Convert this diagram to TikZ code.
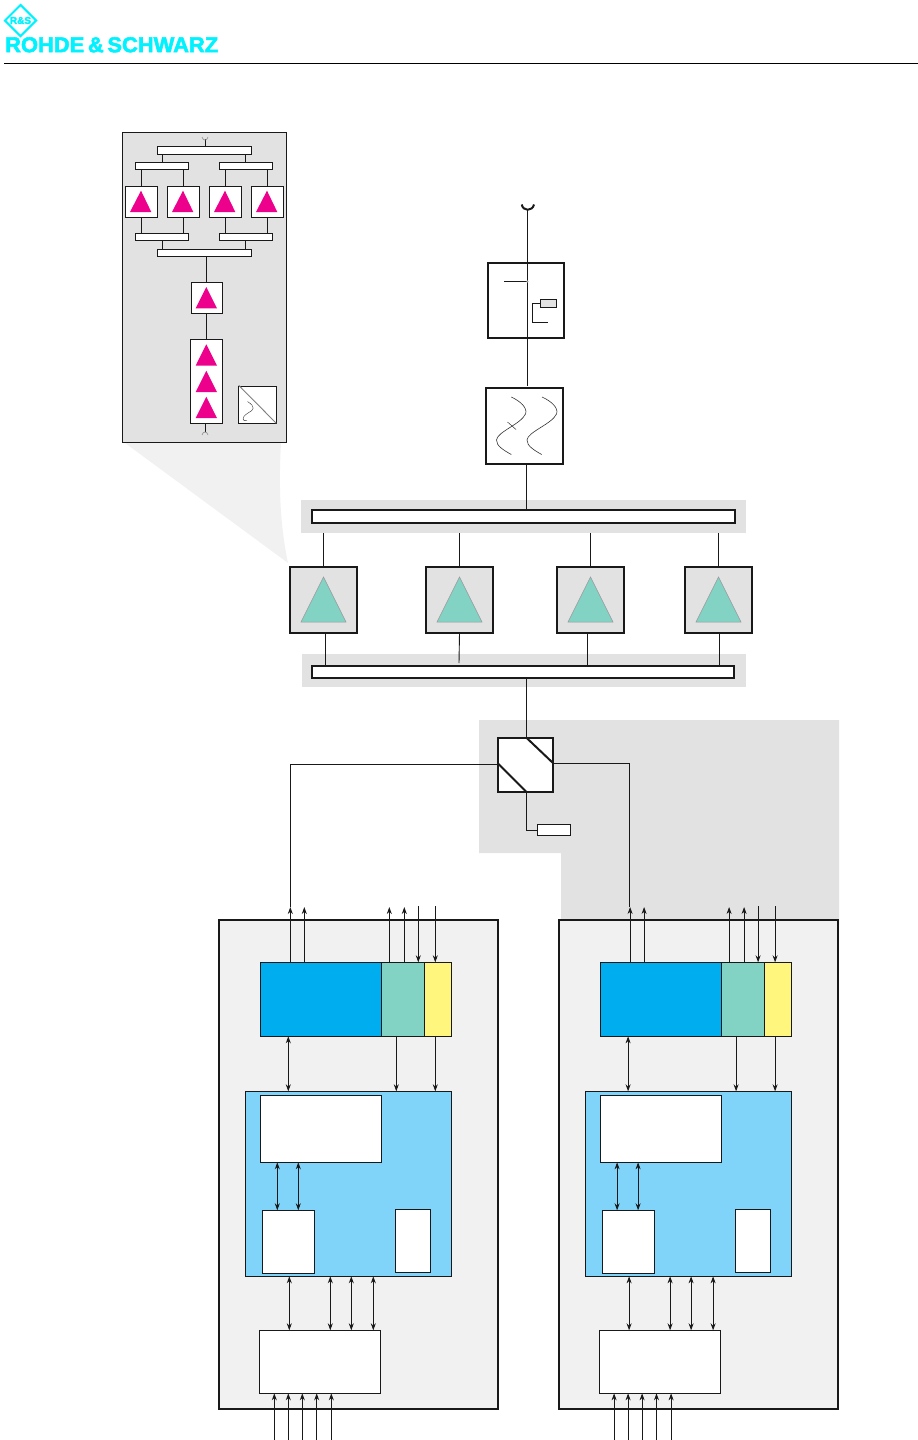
\documentclass[tikz,border=0pt]{standalone}
\usepackage{fontspec}
\setmainfont{Liberation Sans}
\newfontfamily\logofont[FakeBold=2.5]{Liberation Sans Bold}
\usetikzlibrary{arrows.meta, calc, shapes.geometric}

\definecolor{panelgray}{HTML}{E2E2E2}
\definecolor{conegray}{HTML}{F1F1F1}
\definecolor{rfblue}{HTML}{00ADEF}
\definecolor{rfteal}{HTML}{82D3C3}
\definecolor{rfyellow}{HTML}{FFF77D}
\definecolor{corelight}{HTML}{80D4FA}
\definecolor{ampmagenta}{HTML}{EC008C}
\definecolor{logocyan}{HTML}{00F2FF}

\begin{document}
\begin{tikzpicture}[x=1pt, y=-1pt,
            box/.style={draw=black!90, line width=0.9pt, fill=white, anchor=north west,
                    inner sep=0pt, outer sep=0pt},
            sz/.style 2 args={minimum width=#1pt, minimum height=#2pt},
            heavy/.style={box, line width=2pt},
            plate/.style={box, draw=none},
            wire/.style={line width=0.9pt, black!90},
            arr/.style={wire, -{Stealth[length=7pt, width=5pt]}},
            dbl/.style={wire, {Stealth[length=7pt, width=5pt]}-{Stealth[length=7pt, width=5pt]}}]
        \useasboundingbox (0,0) rectangle (918,1440);

        % logo and header rule
        \node[diamond, draw=logocyan, line width=2pt, inner sep=0pt, minimum size=32pt,
              text=logocyan, font=\logofont\fontsize{10}{10}\selectfont] (diam) at (20.5,20.5) {R\&S};
        \node[anchor=north west, inner sep=0pt, text=logocyan] (logo) at (5,37)
            {\resizebox{213pt}{15pt}{\logofont ROHDE\,\&\,SCHWARZ}};
        \coordinate (rulea) at (4,63.5);
        \coordinate (ruleb) at (918,63.5);
        \draw[line width=0.9pt] (rulea) -- (ruleb);

        % magnified power amplifier
        \fill[conegray] (125,443) -- (288,563) .. controls (279,520) and (279,480) .. (281,443) -- cycle;
        \node[box, sz={164}{310}, fill=panelgray] (inset) at (122,132) {};
        \node[box, sz={94.4}{7.6}] (itop) at (157.3,146.7) {};
        \node[box, sz={53}{7}] (ila) at (135.3,162.3) {};
        \node[box, sz={53}{7}] (ilb) at (219.3,162.3) {};
        \node[box, sz={53}{7}] (ilc) at (135.3,233.3) {};
        \node[box, sz={53}{7}] (ild) at (219.3,233.3) {};
        \node[box, sz={94.4}{6.6}] (ibot) at (157.3,249.7) {};
        \foreach \xa/\n in {125.3/1, 167.3/2, 209.3/3, 251.3/4} {
            \node[box, sz={32}{31}] (ia\n) at (\xa,186.3) {};
            \fill[ampmagenta] (\xa+15.7,190.7) -- (\xa+4.7,212) -- (\xa+26,212) -- cycle;
        }
        \draw[wire] (ila.north -| 162.3,0) -- (itop.south -| 162.3,0);
        \draw[wire] (ilb.north) -- (itop.south -| ilb.north);
        \draw[wire] (ilc.south -| 162.3,0) -- (ibot.north -| 162.3,0);
        \draw[wire] (ild.south) -- (ibot.north -| ild.south);
        \foreach \n/\m/\k in {1/ila/ilc, 2/ila/ilc, 3/ilb/ild, 4/ilb/ild} {
            \draw[wire] (ia\n.north) -- (ia\n.north |- \m.south);
            \draw[wire] (ia\n.south) -- (ia\n.south |- \k.north);
        }
        \node[box, sz={31}{31}] (idrv) at (191.3,282.3) {};
        \fill[ampmagenta] (206.3,287) -- (195.7,308.3) -- (217,308.3) -- cycle;
        \node[box, sz={32}{84}] (ipre) at (190.3,339.3) {};
        \foreach \ya in {344.3, 370.7, 396.7}
            \fill[ampmagenta] (206.3,\ya) -- (195.7,\ya+21.3) -- (217,\ya+21.3) -- cycle;
        \node[box, sz={37.6}{37}] (iconv) at (238.7,386.3) {};
        \draw[line width=0.9pt, black!50] (iconv.north west) ++(0,-1) -- (iconv.south east);
        \draw[line width=0.4pt, black!80] (247.5,401.5) .. controls (256,407) and (254,410) .. (248,413)
            .. controls (240,418) and (243,422) .. (247,420.5);
        \draw[wire] (ibot.south -| idrv.north) -- (idrv.north);
        \draw[wire] (idrv.south) -- (ipre.north -| idrv.south);
        \coordinate (iain) at (205,139);
        \coordinate (iaout) at (205,432);
        \draw[wire] (iain) -- (itop.north -| iain);
        \draw[wire] (ipre.south -| iaout) -- (iaout);
        \draw[line width=0.6pt, black!45] (202,137) .. controls (203,141) and (207,141) .. (208,137);
        \draw[line width=0.6pt, black!45] (202,435) .. controls (203,431) and (207,431) .. (208,435);

        % antenna, coupler and filter
        \coordinate (ant) at (527.5,209);
        \draw[line width=2pt, black!90] (521.7,204.5) .. controls (523,211.5) and (532.5,211.5) .. (534,204.5);
        \node[heavy, sz={76}{75}] (coup) at (488,263) {};
        \node[heavy, sz={77}{76}] (filt) at (486,387.7) {};
        \node[box, sz={16.4}{8}, fill=panelgray] (load) at (540.3,299.3) {};
        \draw[wire] (ant) -- (coup.north -| ant) -- (coup.south -| ant);
        \draw[wire] (coup.south -| ant) -- (527.5,385.5);
        \coordinate (tapa) at (504.3,281.5);
        \coordinate (tapb) at (547.7,322.3);
        \draw[wire] (tapa) -- (527.5,281.5);
        \draw[wire] (load.west) -| (532.3,322.3) -- (tapb);
        \fill[black!35] (527.5,281.5) circle (1.2pt);
        \draw[line width=0.6pt, black!80] (511.3,397) .. controls (520,401) and (528,408) .. (525.5,414)
            .. controls (521,424) and (497,432) .. (496.5,440) .. controls (496,446) and (505,451) .. (511.3,454.5);
        \draw[line width=0.6pt, black!80] (542,397) .. controls (551,401) and (559,408) .. (556.5,414)
            .. controls (552,424) and (527.5,432) .. (527,440) .. controls (526.5,446) and (535.5,451) .. (541.7,454.5);
        \draw[line width=0.5pt, black!80] (507.5,422) -- (516,429.5);

        % combiner buses and power amplifiers
        \node[plate, sz={445}{33}, fill=panelgray] (busa) at (301,500) {};
        \node[plate, sz={444}{33}, fill=panelgray] (busb) at (302,654) {};
        \node[heavy, sz={423}{13}] (bara) at (312,510) {};
        \node[heavy, sz={422}{12}] (barb) at (312,666) {};
        \foreach \xa/\n in {290/1, 426/2, 557/3, 685/4} {
            \node[heavy, sz={67}{66}, fill=panelgray] (pa\n) at (\xa,567) {};
            \draw[line width=2.8pt, black!90] (pa\n.north west) -- (pa\n.north east);
            \draw[line width=0.5pt, black!40, fill=rfteal] (\xa+33.5,577) -- (\xa+11,622) -- (\xa+56,622) -- cycle;
            \draw[wire] (pa\n.north) -- (pa\n.north |- busa.south);
        }
        \draw[wire] (filt.south -| 526.3,0) -- (bara.north -| 526.3,0);
        \draw[wire] (pa1.south -| 325,0) -- (barb.north -| 325,0);
        \draw[wire] (pa2.south) -- (459,663);
        \draw[wire] (pa3.south -| 587.5,0) -- (barb.north -| 587.5,0);
        \draw[wire] (pa4.south -| 719.5,0) -- (barb.north -| 719.5,0);

        % splitter and reference load
        \fill[panelgray] (479,720) -- (839,720) -- (839,925) -- (561,925) -- (561,853) -- (479,853) -- cycle;
        \node[heavy, sz={55}{54}] (split) at (498,738) {};
        \draw[line width=2pt, black!90] (526.7,738) -- ($(split.east)+(0,-2)$);
        \draw[line width=2pt, black!90] ($(split.west)+(0,-1.5)$) -- (526.2,791.7);
        \node[box, sz={33.4}{11.4}] (term) at (537.3,824.3) {};
        \draw[wire] (barb.south -| 526.5,0) -- (split.north -| 526.5,0);
        \draw[wire] (split.south -| 526.5,0) |- (term.west);

        % both exciter cards, the same but for the shift
        \foreach \dx/\c in {0/a, 339.8/b} {
        \begin{scope}[xshift=\dx pt]
            \node[heavy, sz={279}{489}, fill=conegray] (card\c) at (219.3,920) {};
            \node[box, sz={120.6}{74}, fill=rfblue] (bb\c) at (260.7,962.3) {};
            \node[box, sz={43}{74}, fill=rfteal] (mod\c) at (381.3,962.3) {};
            \node[box, sz={27}{74}, fill=rfyellow] (aux\c) at (424.3,962.3) {};
            \node[box, sz={205.6}{185}, fill=corelight] (core\c) at (245.7,1091.3) {};
            \node[box, sz={121}{67}] (proc\c) at (260.3,1095.3) {};
            \node[box, sz={52.4}{63}] (mem\c) at (262.3,1210.3) {};
            \node[box, sz={35.4}{63}] (ctl\c) at (395.3,1209.3) {};
            \node[box, sz={121}{63}] (io\c) at (259.3,1330.3) {};
            % outputs and inputs above the card
            \foreach \xa in {304.3, 389.3, 404.3}
                \draw[arr] (\xa,0 |- bb\c.north) -- (\xa,907);
            \draw[arr] (290.3,0 |- bb\c.north) -- (290.3,907);
            \foreach \xa in {418.3, 435.3}
                \draw[arr] (\xa,906) -- (\xa,0 |- bb\c.north);
            % between the blocks
            \draw[dbl] (288.3,0 |- bb\c.south) -- (288.3,0 |- core\c.north);
            \foreach \xa in {396.3, 435.3}
                \draw[arr] (\xa,0 |- bb\c.south) -- (\xa,0 |- core\c.north);
            \foreach \xa in {277.3, 298.3}
                \draw[dbl] (\xa,0 |- proc\c.south) -- (\xa,0 |- mem\c.north);
            \foreach \xa in {289.3, 330.3, 351.3, 373.3}
                \draw[dbl] (\xa,0 |- core\c.south) -- (\xa,0 |- io\c.north);
            \foreach \xa in {274.3, 288.3, 302.3, 316.7, 331.3}
                \draw[arr] (\xa,1440) -- (\xa,0 |- io\c.south);
        \end{scope}
        }
        \coordinate (fwda) at (290.3,907);
        \coordinate (fwdb) at (629.8,907);
        \draw[wire] (fwda) |- ($(split.west)+(0,-1)$);
        \draw[wire] (fwdb) |- ($(split.east)+(0,-2)$);
    \end{tikzpicture}
\end{document}
